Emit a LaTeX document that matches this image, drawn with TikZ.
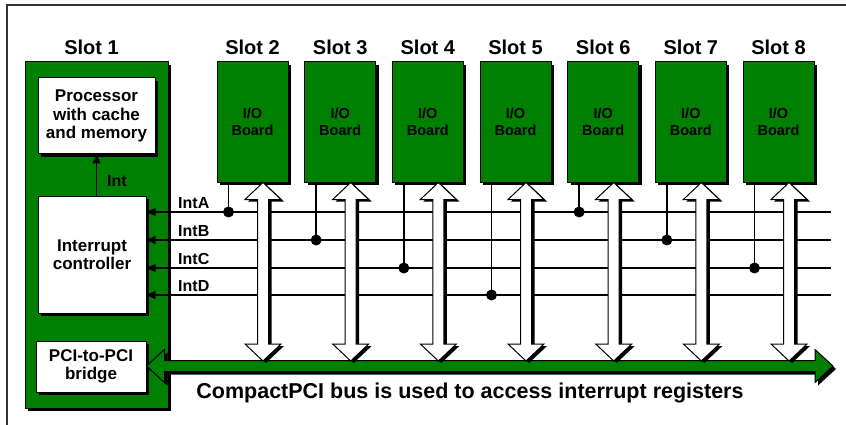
\documentclass[tikz,border=0pt]{standalone}
\usepackage{fontspec}
\setmainfont{Liberation Sans}
\usetikzlibrary{positioning,shadows,arrows.meta,calc}
\definecolor{pcigreen}{RGB}{0,128,0}
\tikzset{
  shade box/.style={draw=black, line width=1pt,
    drop shadow={shadow xshift=3pt, shadow yshift=-3pt, opacity=1, fill=black}},
  slotbox/.style={shade box, fill=pcigreen},
  whitebox/.style={shade box, fill=white, align=center,
    font=\fontsize{17}{18.5}\selectfont\bfseries},
  ioboard/.style={slotbox, minimum width=71pt, minimum height=120pt, align=center,
    font=\fontsize{14.5}{17}\selectfont\bfseries},
  slotlabel/.style={inner sep=0pt, font=\fontsize{20}{24}\selectfont\bfseries},
  intlabel/.style={inner sep=0pt, font=\fontsize{16}{19}\selectfont\bfseries},
  intline/.style={line width=1.4pt},
  sig/.style={intline, -{Triangle[length=9pt,width=8pt]}},
  tap/.style={circle, fill=black, inner sep=0pt, minimum size=11pt},
  fatarrow/.style={draw=black, line width=1pt, fill=white,
    drop shadow={shadow xshift=3pt, shadow yshift=-2pt, opacity=1, fill=black}},
  busarrow/.style={draw=black, line width=1pt, fill=pcigreen,
    drop shadow={shadow xshift=3pt, shadow yshift=-3pt, opacity=1, fill=black}}
}

\begin{document}
\begin{tikzpicture}[x=1pt,y=-1pt]
  \useasboundingbox (0,0) rectangle (846,425);
  \draw[line width=1.3pt, black!80] (7,425) -- (7,5) -- (846,5);

  % system slot
  \node[slotbox, minimum width=143pt, minimum height=346pt] (slot1) at (96.5,235) {};
  \node[slotlabel, above=7pt of slot1, xshift=-5pt] (slotlbl1) {Slot 1};
  \node[whitebox, minimum width=117pt, minimum height=76pt] (proc) at (96.5,116)
    {Processor\\with cache\\and memory};
  \node[whitebox, minimum width=108pt, minimum height=117pt] (ctrl) at (92,254.5)
    {Interrupt\\controller};
  \node[whitebox, minimum width=110pt, minimum height=51pt] (bridge) at (91,366.5)
    {PCI-to-PCI\\bridge};
  \draw[sig] (ctrl.north -| proc.south) -- node[intlabel, right=10pt, pos=0.35] (intlbl) {Int} (proc.south);

  % peripheral slots
  \foreach \i in {2,...,8}
  {
    \node[ioboard] (io\i) at ({252.5+(\i-2)*87.67},122) {I/O\\Board};
    \node[slotlabel, above=7pt of io\i] (slotlbl\i) {Slot \i};
  }

  % interrupt lines
  \foreach \l/\y in {A/212,B/240,C/268,D/295}
  {
    \coordinate (end\l) at (831,\y);
    \draw[sig] (end\l) -- (end\l -| ctrl.east);
    \node[intlabel, anchor=base west] (lbl\l) at (178,\y-4) {Int\l};
  }
  \foreach \i/\l in {2/A,3/B,4/C,5/D,6/A,7/B,8/C}
  {
    \coordinate (drop\i) at ([xshift=12pt]io\i.south west);
    \draw[intline] (drop\i) -- (drop\i |- end\l) node[tap] (tap\i) {};
  }

  % bus
  \coordinate (busend) at (833,366);
  \coordinate (bustop) at (500,361);
  \path[busarrow] let \p1=(bridge.east), \p2=(busend) in
    (\x1,\y2) -- (\x1+18pt,\y2+16.5pt) -- (\x1+18pt,\y2+5.5pt) -- (\x2-18pt,\y2+5.5pt)
    -- (\x2-18pt,\y2+16.5pt) -- (\x2,\y2) -- (\x2-18pt,\y2-16.5pt) -- (\x2-18pt,\y2-5.5pt)
    -- (\x1+18pt,\y2-5.5pt) -- (\x1+18pt,\y2-16.5pt) -- cycle;
  \node[anchor=base, font=\fontsize{21.5}{24}\selectfont\bfseries] (busname) at (470,398)
    {CompactPCI bus is used to access interrupt registers};

  \foreach \i in {2,...,8}
  {
    \coordinate (up\i) at ([xshift=10.5pt]io\i.south);
    \coordinate (dn\i) at (up\i |- bustop);
    \path[fatarrow] let \p1=(up\i), \p2=(dn\i) in
      (\x1,\y1) -- (\x1+18pt,\y1-17pt) -- (\x1+5.5pt,\y1-17pt) -- (\x2+5.5pt,\y2+17pt)
      -- (\x2+18pt,\y2+17pt) -- (\x2,\y2) -- (\x2-18pt,\y2+17pt) -- (\x2-5.5pt,\y2+17pt)
      -- (\x1-5.5pt,\y1-17pt) -- (\x1-18pt,\y1-17pt) -- cycle;
  }
\end{tikzpicture}
\end{document}
